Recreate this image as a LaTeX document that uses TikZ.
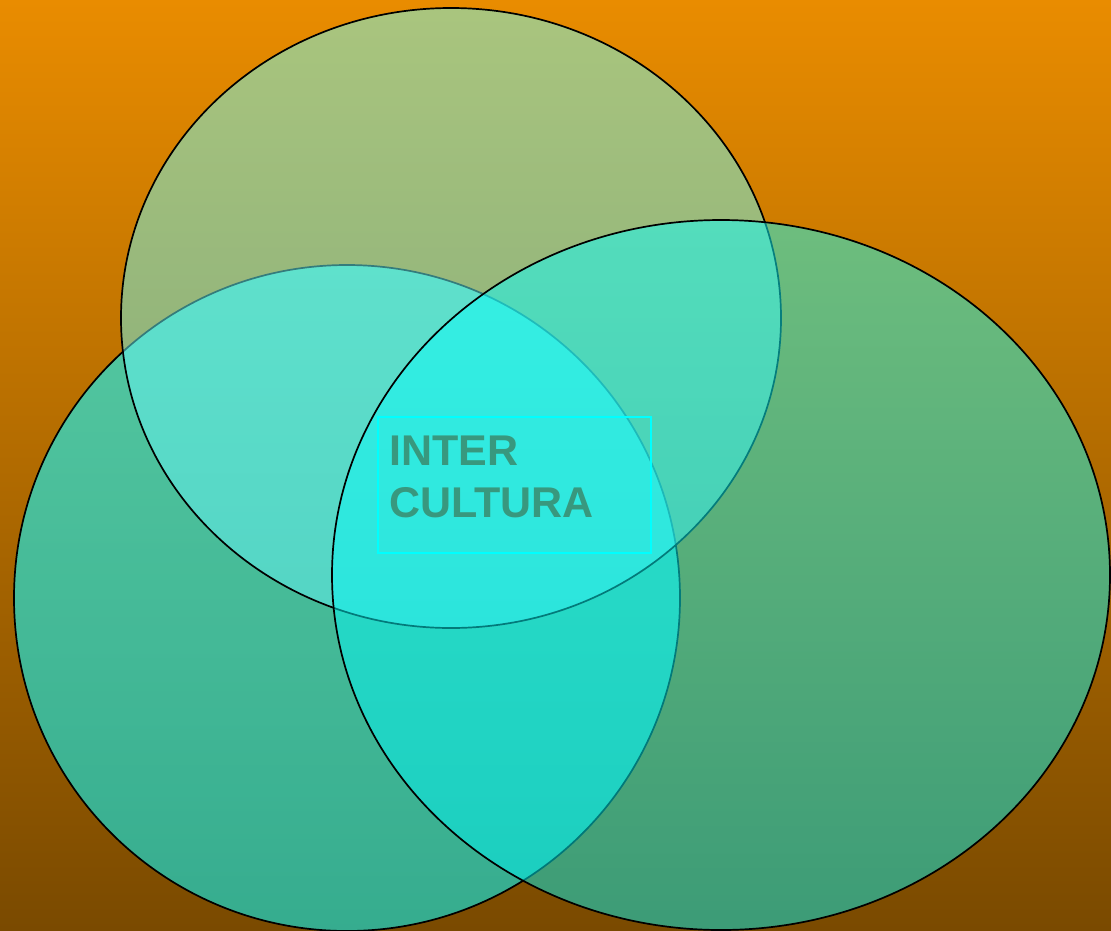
\documentclass[tikz,border=0pt]{standalone}
\usepackage{fontspec}
\setmainfont{Liberation Sans}
\definecolor{bgtop}{RGB}{233,140,0}
\definecolor{bgbot}{RGB}{122,74,0}
\definecolor{lefttop}{RGB}{24,244,248}
\definecolor{leftbot}{RGB}{18,226,220}
\definecolor{toptop}{RGB}{108,255,252}
\definecolor{topbot}{RGB}{100,240,242}
\definecolor{righttop}{RGB}{14,255,252}
\definecolor{rightbot}{RGB}{0,238,238}
\definecolor{textc}{RGB}{56,152,126}
\definecolor{boxc}{RGB}{0,255,255}
\tikzset{
  edge/.style={draw=black, line width=1.7pt},
  lbl/.style={anchor=base west, inner sep=0pt, text=textc, font=\bfseries\fontsize{43}{52}\selectfont}
}
\begin{document}
\begin{tikzpicture}[x=1pt,y=1pt]
\shade[top color=bgtop, bottom color=bgbot] (0,0) rectangle (1111,-930);
\useasboundingbox (0,0) rectangle (1111,-930);
\begin{scope}
\clip (0,0) rectangle (1111,-930);
% left ellipse
\shade[top color=lefttop, bottom color=leftbot, fill opacity=0.65] (347,-598) ellipse [x radius=333, y radius=333];
\draw[edge] (347,-598) ellipse [x radius=333, y radius=333];
% top ellipse
\shade[top color=toptop, bottom color=topbot, fill opacity=0.5] (451,-318) ellipse [x radius=330, y radius=310];
\draw[edge] (451,-318) ellipse [x radius=330, y radius=310];
% right ellipse
\shade[top color=righttop, bottom color=rightbot, fill opacity=0.5] (721,-575) ellipse [x radius=389, y radius=355];
\draw[edge] (721,-575) ellipse [x radius=389, y radius=355];
\end{scope}
\node[draw=boxc, line width=1.3pt, minimum width=273pt, minimum height=136pt, inner sep=0pt] (box) at (514.5,-485) {};
\node[lbl] (l1) at (389,-465) {INTER};
\node[lbl] (l2) at (389,-517) {CULTURA};
\end{tikzpicture}
\end{document}
